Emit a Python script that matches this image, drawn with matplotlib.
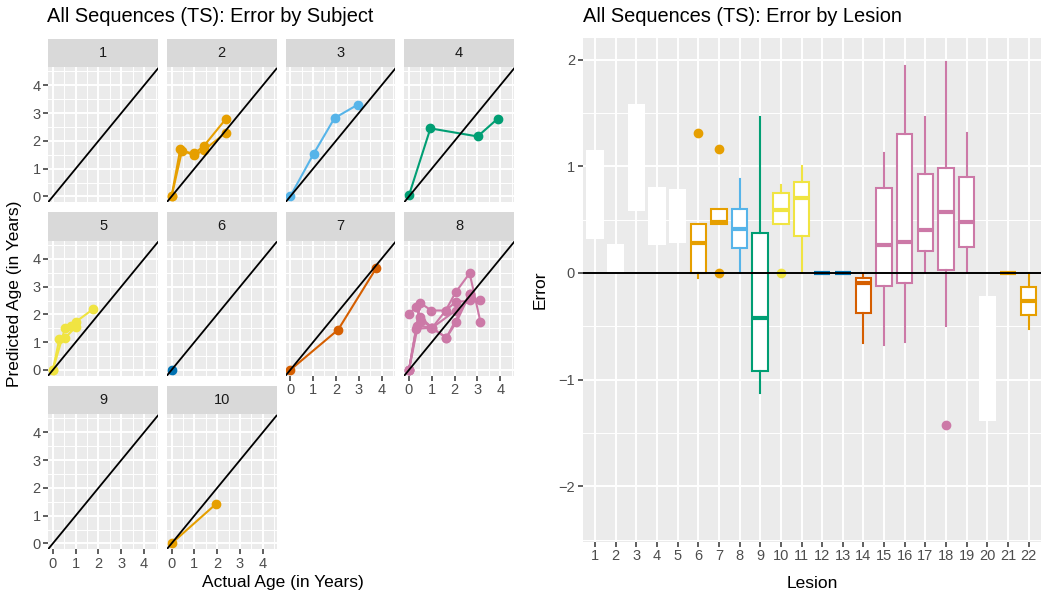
import matplotlib
matplotlib.use('Agg')
import matplotlib.pyplot as plt
from matplotlib.ticker import MultipleLocator

plt.rcParams['font.family'] = ['Liberation Sans', 'DejaVu Sans']

# ---- data: subject facets (one track per lesion) ----
subject_ids = [1, 2, 3, 4, 5, 6, 7, 8, 9, 10]
subject_colors = ['white', '#E69F00', '#56B4E9', '#009E73', '#F0E442',
                  '#0072B2', '#D55E00', '#CC79A7', 'white', '#E69F00']

track_subject = [2, 2, 3, 4, 5, 5, 6, 7, 8, 8, 8, 8, 8, 10]
track_actual = [
    [0, 0.38, 0.98, 1.42, 2.37],
    [0, 0.45, 1.00, 1.42, 2.37],
    [0, 1.02, 1.94, 2.97],
    [0, 0.94, 3.01, 3.89],
    [0, 0.28, 0.54, 1.02],
    [0, 0.54, 0.80, 1.02, 1.78],
    [0],
    [0, 2.10, 3.77],
    [0, 0.32, 0.98, 1.64, 2.08, 2.66],
    [0, 0.50, 0.98, 1.61, 2.05, 2.66, 3.13],
    [0, 0.47, 1.02, 1.61, 2.05, 3.13],
    [0, 0.29, 0.54, 1.64, 2.66],
    [0, 0.35, 1.02, 2.05, 2.66],
    [0, 1.96],
]
track_pred = [
    [0, 1.70, 1.48, 1.67, 2.29],
    [0, 1.62, 1.55, 1.82, 2.78],
    [0, 1.53, 2.82, 3.31],
    [0.04, 2.45, 2.16, 2.80],
    [0, 1.10, 1.16, 1.56],
    [0, 1.52, 1.59, 1.74, 2.20],
    [0],
    [0, 1.45, 3.67],
    [0, 1.48, 1.52, 1.16, 1.72, 2.73],
    [0, 2.41, 2.14, 2.14, 2.80, 3.48, 1.74],
    [0, 1.92, 1.52, 2.14, 2.45, 2.52],
    [2.00, 2.27, 1.78, 1.16, 2.73],
    [0, 1.60, 1.52, 2.14, 2.52],
    [0, 1.43],
]

# ---- data: error by lesion (box summaries) ----
lesions = list(range(1, 23))
lesion_colors = ['white'] * 5 + ['#E69F00', '#E69F00', '#56B4E9', '#009E73',
                 '#F0E442', '#F0E442', '#0072B2', '#0072B2', '#D55E00',
                 '#CC79A7', '#CC79A7', '#CC79A7', '#CC79A7', '#CC79A7',
                 'white', '#E69F00', '#E69F00']
lesion_q1 = [0.33, 0.0, 0.59, 0.27, 0.29, 0.0, 0.456, 0.23, -0.92, 0.456, 0.35,
             0, 0, -0.375, -0.12, -0.097, 0.21, 0.03, 0.24, -1.38, 0, -0.39]
lesion_med = [0.7, 0.13, 1.1, 0.5, 0.5, 0.28, 0.48, 0.41, -0.425, 0.59, 0.70,
              0, 0, -0.09, 0.26, 0.29, 0.40, 0.575, 0.475, -0.8, 0, -0.26]
lesion_q3 = [1.14, 0.26, 1.575, 0.8, 0.78, 0.456, 0.6, 0.6, 0.37, 0.75, 0.85,
             0, 0, -0.044, 0.8, 1.3, 0.93, 0.98, 0.9, -0.23, 0, -0.13]
lesion_whislo = [0.33, 0.0, 0.59, 0.27, 0.29, -0.05, 0.456, 0.0, -1.13, 0.456, 0.0,
                 0, 0, -0.66, -0.675, -0.65, 0.0, -0.5, 0.0, -1.38, 0, -0.525]
lesion_whishi = [1.14, 0.26, 1.575, 0.8, 0.78, 0.456, 0.6, 0.88, 1.46, 0.825, 1.0,
                 0, 0, 0.0, 1.12, 1.94, 1.46, 1.98, 1.31, -0.23, 0, 0.0]
lesion_outliers = [[], [], [], [], [], [1.31], [1.16, 0.0], [], [], [0.0], [],
                   [], [], [], [], [], [], [-1.43], [], [], [], []]

W, H = 1050, 605
fig = plt.figure(figsize=(W / 100, H / 100), dpi=100)


def px_axes(left, top, width, height):
    return fig.add_axes([left / W, 1 - (top + height) / H, width / W, height / H])


def gg_style(ax):
    ax.set_facecolor('#EBEBEB')
    for s in ax.spines.values():
        s.set_visible(False)
    ax.grid(True, which='major', color='white', lw=1.4)
    ax.grid(True, which='minor', color='white', lw=0.7)
    ax.set_axisbelow(True)
    ax.tick_params(which='major', length=3.5, width=1.1, color='#333333',
                   labelcolor='#4D4D4D', labelsize=10.5, pad=2)
    ax.tick_params(which='minor', length=0)


# ---- left: facets ----
col_left = [48.3, 167.0, 285.7, 404.4]
row_top = [39, 212.5, 386]
panel_w, strip_h, panel_h = 109.5, 28, 135

for i, subj in enumerate(subject_ids):
    r, c = divmod(i, 4)
    st = px_axes(col_left[c], row_top[r], panel_w, strip_h)
    st.set_facecolor('#D9D9D9')
    st.set_xticks([]); st.set_yticks([])
    for s in st.spines.values():
        s.set_visible(False)
    st.text(0.5, 0.5, str(subj), ha='center', va='center', fontsize=10.5,
            color='#1A1A1A', transform=st.transAxes)

    ax = px_axes(col_left[c], row_top[r] + strip_h, panel_w, panel_h)
    gg_style(ax)
    ax.set_xlim(-0.2, 4.6)
    ax.set_ylim(-0.2, 4.66)
    ax.xaxis.set_major_locator(MultipleLocator(1))
    ax.xaxis.set_minor_locator(MultipleLocator(0.5))
    ax.yaxis.set_major_locator(MultipleLocator(1))
    ax.yaxis.set_minor_locator(MultipleLocator(0.5))

    for ts, xs, ys in zip(track_subject, track_actual, track_pred):
        if ts == subj:
            ax.plot(xs, ys, color=subject_colors[i], lw=1.5, marker='o',
                    markersize=6, zorder=3)
    ax.axline((0, 0), slope=1, color='black', lw=1.3, zorder=4)

    show_y = c == 0
    below = i + 4
    show_x = below >= len(subject_ids)
    ax.tick_params(axis='y', left=show_y, labelleft=show_y)
    ax.tick_params(axis='x', bottom=show_x, labelbottom=show_x)

fig.text(47 / W, 1 - 17 / H, 'All Sequences (TS): Error by Subject',
         fontsize=14.4, va='center', ha='left', color='black')
fig.text(15 / W, 1 - 294 / H, 'Predicted Age (in Years)', rotation=90,
         fontsize=12.5, va='center', ha='center')
fig.text(283 / W, 1 - 583 / H, 'Actual Age (in Years)',
         fontsize=12.5, va='center', ha='center')

# ---- right: boxplots ----
ax = px_axes(582.7, 38.3, 458.3, 503.4)
gg_style(ax)
ax.set_xlim(0.4, 22.6)
ax.set_ylim(-2.52, 2.2)
ax.set_xticks(lesions)
ax.set_xticklabels([str(l) for l in lesions])
ax.yaxis.set_major_locator(MultipleLocator(1))
ax.set_yticks([-2.5, -1.5, -0.5, 0.5, 1.5], minor=True)
ax.grid(False, axis='x', which='minor')

for k, les in enumerate(lesions):
    col = lesion_colors[k]
    stats = [dict(med=lesion_med[k], q1=lesion_q1[k], q3=lesion_q3[k],
                  whislo=lesion_whislo[k], whishi=lesion_whishi[k],
                  fliers=lesion_outliers[k])]
    ax.bxp(stats, positions=[les], widths=0.75, patch_artist=True,
           showcaps=False, manage_ticks=False,
           boxprops=dict(facecolor='white', edgecolor=col, linewidth=1.5),
           whiskerprops=dict(color=col, linewidth=1.5),
           medianprops=dict(color=col, linewidth=3),
           flierprops=dict(marker='o', markerfacecolor=col, markeredgecolor=col,
                           markersize=6, linestyle='none'))
ax.axhline(0, color='black', lw=1.4, zorder=5)

fig.text(583 / W, 1 - 17 / H, 'All Sequences (TS): Error by Lesion',
         fontsize=14.4, va='center', ha='left', color='black')
fig.text(540 / W, 1 - 290 / H, 'Error', rotation=90,
         fontsize=12.5, va='center', ha='center')
fig.text(812 / W, 1 - 583 / H, 'Lesion', fontsize=12.5, va='center', ha='center')

fig.savefig('out.png', dpi=100)
